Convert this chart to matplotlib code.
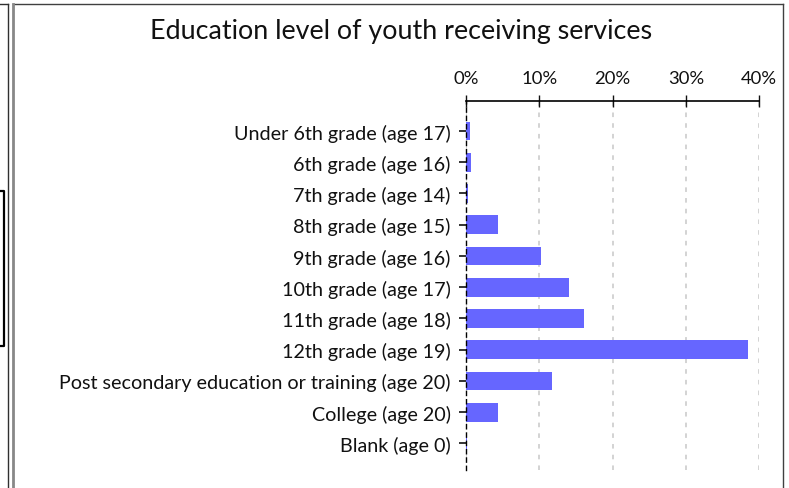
import matplotlib
matplotlib.use("Agg")
import matplotlib.pyplot as plt
from matplotlib.lines import Line2D
from matplotlib.ticker import FuncFormatter

categories = [
    "Under 6th grade (age 17)",
    "6th grade (age 16)",
    "7th grade (age 14)",
    "8th grade (age 15)",
    "9th grade (age 16)",
    "10th grade (age 17)",
    "11th grade (age 18)",
    "12th grade (age 19)",
    "Post secondary education or training (age 20)",
    "College (age 20)",
    "Blank (age 0)",
]
values = [0.55, 0.7, 0.3, 4.4, 10.2, 14.0, 16.1, 38.5, 11.7, 4.4, 0.1]
xticks = [0, 10, 20, 30, 40]

W, H = 789, 489
plt.rcParams['font.family'] = ['Lato', 'DejaVu Sans']
fig = plt.figure(figsize=(W / 100, H / 100), dpi=100)

# axes in pixel coords
ax_l, ax_r, ax_t, ax_b = 466, 759.3, 102, 471
ax = fig.add_axes([ax_l / W, 1 - ax_b / H, (ax_r - ax_l) / W, (ax_b - ax_t) / H])

ypos = list(range(len(categories)))
ax.barh(ypos, values, height=0.6, color="#6666FF", zorder=3)
ax.set_xlim(0, 40)
ax.set_ylim(10.85, -0.96)
ax.set_yticks(ypos)
ax.set_yticklabels(categories, fontsize=14.25, color="#111111")
ax.set_xticks(xticks)
ax.xaxis.set_major_formatter(FuncFormatter(lambda v, p: f"{int(v)}%"))
ax.xaxis.tick_top()
ax.tick_params(axis='x', direction='inout', length=8, width=1, labelsize=13.3,
               pad=7, colors="#111111")
ax.tick_params(axis='y', direction='out', length=5, width=1.2, pad=6, colors="#111111")
for s in ['right', 'bottom']:
    ax.spines[s].set_visible(False)
ax.spines['top'].set_color('black')
ax.spines['top'].set_linewidth(1.2)
ax.spines['left'].set_color('black')
ax.spines['left'].set_linestyle((0, (3, 3)))
ax.spines['left'].set_linewidth(1)
ax.spines['left'].set_zorder(4)
ax.grid(axis='x', color='#c8c8c8', linestyle=(0, (3, 4)), linewidth=1.1, zorder=0)
ax.set_axisbelow(True)

fig.text(401 / W, 1 - 31 / H, "Education level of youth receiving services",
         ha='center', va='center', fontsize=19.4, color='#111111')

def px_line(xs, ys, color, lw):
    fig.add_artist(Line2D([x / W for x in xs], [1 - y / H for y in ys],
                          transform=fig.transFigure, color=color, linewidth=lw))

# screenshot borders
px_line([12.5, 783], [5, 5], '#404040', 1.0)
px_line([783, 783], [5, 489], '#404040', 1.0)
px_line([12.5, 12.5], [5, 489], '#888888', 2.0)
px_line([0, 7.5], [5, 5], '#303030', 1.0)
px_line([7.5, 7.5], [5, 489], '#303030', 1.0)
px_line([0, 3.5, 3.5, 0], [192, 192, 347, 347], '#000000', 1.6)

fig.savefig("out.png", dpi=100)
